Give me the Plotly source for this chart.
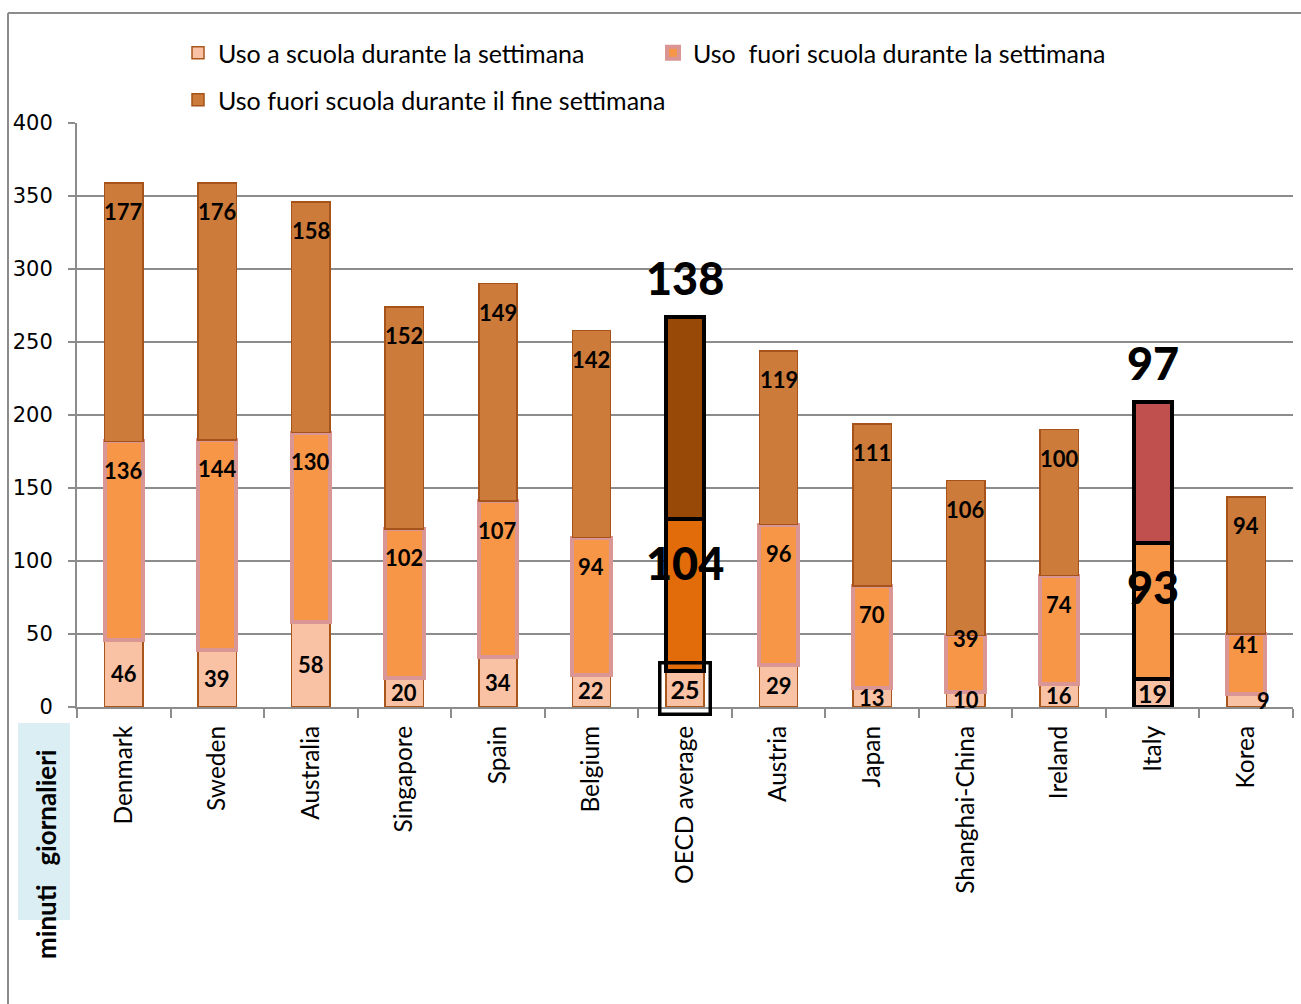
import plotly.graph_objects as go

# Daily minutes of internet use by 15-year-olds (PISA 2012)
countries = ["Denmark", "Sweden", "Australia", "Singapore", "Spain", "Belgium",
             "OECD average", "Austria", "Japan", "Shanghai-China", "Ireland",
             "Italy", "Korea"]
school_week = [46, 39, 58, 20, 34, 22, 25, 29, 13, 10, 16, 19, 9]
outside_week = [136, 144, 130, 102, 107, 94, 104, 96, 70, 39, 74, 93, 41]
outside_weekend = [177, 176, 158, 152, 149, 142, 138, 119, 111, 106, 100, 97, 94]

series_names = ["Uso a scuola durante la settimana",
                "Uso  fuori scuola durante la settimana",
                "Uso fuori scuola durante il fine settimana"]

OECD = countries.index("OECD average")
ITALY = countries.index("Italy")
n = len(countries)

# plot area in pixels
W, H = 1301, 1004
PL, PR, PT, PB = 77, 1293, 123, 707


def px_x(p):
    return (p - PL) / (PR - PL)


def px_y(p):
    return (PB - p) / (PB - PT)


def per_bar(default, **special):
    vals = [default] * n
    for idx, v in special.items():
        vals[int(idx[1:])] = v
    return vals


BAR_W = 0.41
fig = go.Figure()

# bottom segment: use at school
fig.add_bar(
    x=countries, y=school_week, name=series_names[0], width=BAR_W,
    marker=dict(color="#F9C2A4",
                line=dict(color=per_bar("#A8561C", **{f"i{ITALY}": "#000000"}),
                          width=per_bar(1.5, **{f"i{ITALY}": 4}))),
    legend="legend",
)
# middle segment: outside school on weekdays
fig.add_bar(
    x=countries, y=outside_week, name=series_names[1], width=BAR_W,
    marker=dict(color=per_bar("#F79646", **{f"i{OECD}": "#E36C0A"}),
                line=dict(color=per_bar("#D99694", **{f"i{OECD}": "#000000", f"i{ITALY}": "#000000"}),
                          width=per_bar(4, **{f"i{OECD}": 4, f"i{ITALY}": 4}))),
    legend="legend",
)
# top segment: outside school at the weekend
fig.add_bar(
    x=countries, y=outside_weekend, name=series_names[2], width=BAR_W,
    marker=dict(color=per_bar("#CD7B3A", **{f"i{OECD}": "#984807", f"i{ITALY}": "#C0504D"}),
                line=dict(color=per_bar("#A5531A", **{f"i{OECD}": "#000000", f"i{ITALY}": "#000000"}),
                          width=per_bar(1.5, **{f"i{OECD}": 4, f"i{ITALY}": 4}))),
    legend="legend2",
)

LABEL_FONT = dict(family="Lato", size=22, color="#000000", weight="bold")
BIG_FONT = dict(family="Lato", size=45, color="#000000", weight=900)
annotations = []

# small nudges for labels that sit off their default spot
mid_nudge = {"Shanghai-China": -3, "Korea": -10}
low_xshift = {"Korea": 17}

for i, c in enumerate(countries):
    b, m, t = school_week[i], outside_week[i], outside_weekend[i]
    special = i in (OECD, ITALY)
    # bottom value, centred in its segment
    ann = dict(x=c, y=b / 2, text=str(b), showarrow=False, yanchor="middle",
               xshift=low_xshift.get(c, 0), font=LABEL_FONT)
    if i == OECD:
        ann.update(font=dict(LABEL_FONT, size=25), bordercolor="#000000",
                   borderwidth=3.5, borderpad=9)
    elif i == ITALY:
        ann.update(font=dict(LABEL_FONT, size=25))
    annotations.append(ann)
    # middle value, near the segment top
    annotations.append(dict(
        x=c, y=b + m, text=str(m), showarrow=False, yanchor="middle",
        yshift=-44 if special else mid_nudge.get(c, -29),
        font=BIG_FONT if special else LABEL_FONT))
    # top value
    annotations.append(dict(
        x=c, y=b + m + t, text=str(t), showarrow=False, yanchor="middle",
        yshift=39 if special else -29,
        font=BIG_FONT if special else LABEL_FONT))

# vertical axis caption
annotations.append(dict(
    xref="paper", yref="paper", x=px_x(46), y=px_y(855),
    text="minuti\u00a0\u00a0 giornalieri", textangle=-90, showarrow=False,
    font=dict(family="Lato", size=26, color="#000000", weight="bold"),
    xanchor="center", yanchor="middle"))

shapes = [
    # caption background
    dict(type="rect", xref="paper", yref="paper", layer="below",
         x0=px_x(18), x1=px_x(70), y0=px_y(920), y1=px_y(723),
         fillcolor="#DAEEF3", line=dict(width=0)),
    # chart frame
    dict(type="line", xref="paper", yref="paper",
         x0=px_x(8), x1=px_x(1305), y0=px_y(13), y1=px_y(13),
         line=dict(color="#8C8C8C", width=2)),
    dict(type="line", xref="paper", yref="paper",
         x0=px_x(8), x1=px_x(8), y0=px_y(13), y1=px_y(1010),
         line=dict(color="#8C8C8C", width=2)),
]

fig.update_layout(
    width=W, height=H,
    margin=dict(l=PL, r=W - PR, t=PT, b=H - PB, pad=0),
    barmode="stack",
    plot_bgcolor="#FFFFFF", paper_bgcolor="#FFFFFF",
    font=dict(family="Lato", size=22, color="#000000"),
    annotations=annotations,
    shapes=shapes,
    legend=dict(orientation="h", x=px_x(178), y=px_y(53), xanchor="left",
                yanchor="middle", entrywidth=430, font=dict(family="Lato", size=25),
                bgcolor="rgba(0,0,0,0)", traceorder="normal"),
    legend2=dict(orientation="h", x=px_x(178), y=px_y(100), xanchor="left",
                 yanchor="middle", font=dict(family="Lato", size=25),
                 bgcolor="rgba(0,0,0,0)"),
    xaxis=dict(
        type="category", tickangle=-90, showgrid=False,
        showline=True, linecolor="#8C8C8C", linewidth=2,
        ticks="outside", tickson="boundaries", ticklen=9, tickwidth=2,
        tickcolor="#8C8C8C", ticklabelstandoff=7,
        tickfont=dict(family="Lato", size=24.5, color="#000000"),
    ),
    yaxis=dict(
        range=[0, 400], dtick=50, showgrid=True, gridcolor="#8C8C8C", gridwidth=1.5,
        showline=True, linecolor="#8C8C8C", linewidth=2,
        ticks="outside", ticklen=7, tickwidth=2, tickcolor="#8C8C8C",
        ticklabelstandoff=11, zeroline=False,
        tickfont=dict(family="DejaVu Sans", size=21, color="#000000"),
    ),
)

fig.write_html("out.html")
